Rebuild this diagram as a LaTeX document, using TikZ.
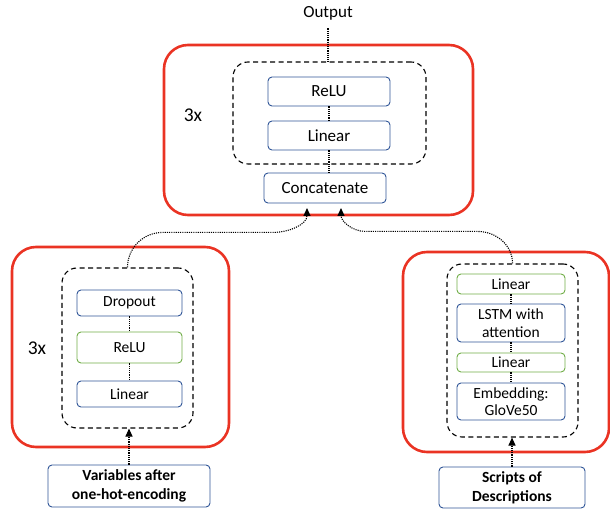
\documentclass[tikz,border=0pt]{standalone}
\usepackage{fontspec}
\setmainfont{Carlito}
\usetikzlibrary{arrows.meta}
\definecolor{boxred}{RGB}{234,51,35}
\definecolor{boxblue}{RGB}{47,85,151}
\definecolor{boxgreen}{RGB}{112,173,71}
\tikzset{
  outer/.style={draw=boxred,line width=2.6pt,rounded corners=24pt,inner sep=0pt},
  group/.style={draw,line width=1.1pt,dash pattern=on 5pt off 3.5pt,rounded corners=15pt,inner sep=0pt},
  bluebox/.style={draw=boxblue,line width=0.9pt,rounded corners=4pt,align=center,inner sep=0pt},
  greenbox/.style={bluebox,draw=boxgreen},
  link/.style={line width=1.1pt,dash pattern=on 1.1pt off 1.1pt},
  arrowlink/.style={link,-{Triangle[length=8pt,width=7pt]}},
  big/.style={font=\fontsize{17}{18}\selectfont},
  small/.style={font=\fontsize{15.5}{18}\selectfont},
  times/.style={font=\fontsize{19.5}{20}\selectfont}
}
\begin{document}
\begin{tikzpicture}[x=1pt,y=-1pt]
\useasboundingbox (0,0) rectangle (610,510);

\node[outer,minimum width=309pt,minimum height=170pt] (tred) at (318.5,130) {};
\node[group,minimum width=193pt,minimum height=102pt] (tdash) at (329.5,113) {};
\node[bluebox,big,minimum width=122pt,minimum height=29pt] (trelu) at (329,91.5) {ReLU};
\node[bluebox,big,minimum width=122pt,minimum height=29pt] (tlin) at (329,135.5) {Linear};
\node[bluebox,big,minimum width=122pt,minimum height=30pt] (cat) at (325,188) {Concatenate};
\node[times] (tthree) at (193,115) {3x};
\node[big] (out) at (328,13) {Output};
\coordinate (catL) at (307,208);
\coordinate (catR) at (341,208);

\node[outer,minimum width=217pt,minimum height=200pt] (lred) at (120.5,347) {};
\node[group,minimum width=131pt,minimum height=160pt] (ldash) at (127.5,348) {};
\node[bluebox,small,minimum width=105pt,minimum height=26pt] (drop) at (129.5,303) {Dropout};
\node[greenbox,small,minimum width=105pt,minimum height=31pt] (lrelu) at (129.5,347.5) {ReLU};
\node[bluebox,small,minimum width=105pt,minimum height=26pt] (llin) at (129.5,394) {Linear};
\node[times] (lthree) at (37,348) {3x};
\node[bluebox,small,font=\fontsize{15.5}{19}\selectfont\bfseries,minimum width=162pt,minimum height=42pt] (vars) at (129,486) {Variables after\\one-hot-encoding};

\node[outer,minimum width=206pt,minimum height=200pt] (rred) at (506,352) {};
\node[group,minimum width=131pt,minimum height=173pt] (rdash) at (512.5,350.5) {};
\node[greenbox,small,minimum width=108pt,minimum height=20pt] (rlin) at (511,284) {Linear};
\node[bluebox,small,minimum width=108pt,minimum height=38pt] (lstm) at (511,323) {LSTM with\\attention};
\node[greenbox,small,minimum width=108pt,minimum height=19pt] (rlinb) at (511,362.5) {Linear};
\node[bluebox,small,font=\fontsize{15.5}{17}\selectfont,minimum width=108pt,minimum height=37pt] (emb) at (511,401.5) {Embedding:\\GloVe50};
\node[bluebox,small,font=\fontsize{15.5}{19}\selectfont\bfseries,minimum width=146pt,minimum height=41pt] (scripts) at (512,487.5) {Scripts of\\Descriptions};

\draw[link,shorten <=5pt] (out.south) -- (out.south |- tdash.north);
\draw[link] (trelu) -- (tlin);
\draw[link] (tlin.south) -- (tlin.south |- cat.north);
\draw[link] (drop) -- (lrelu);
\draw[link] (lrelu) -- (llin);
\draw[link] (rlin) -- (lstm);
\draw[link] (lstm) -- (rlinb);
\draw[link] (rlinb) -- (emb);
\draw[arrowlink] (vars.north) -- (vars.north |- ldash.south);
\draw[arrowlink] (scripts.north) -- (scripts.north |- rdash.south);
\draw[arrowlink] (ldash.north) to[out=90,in=180] ++(35,-35) -- ++(110,0) to[out=0,in=-90] (catL);
\draw[arrowlink] (rdash.north) to[out=90,in=0] ++(-35,-32) -- ++(-112,0) to[out=180,in=-90] (catR);
\end{tikzpicture}
\end{document}
